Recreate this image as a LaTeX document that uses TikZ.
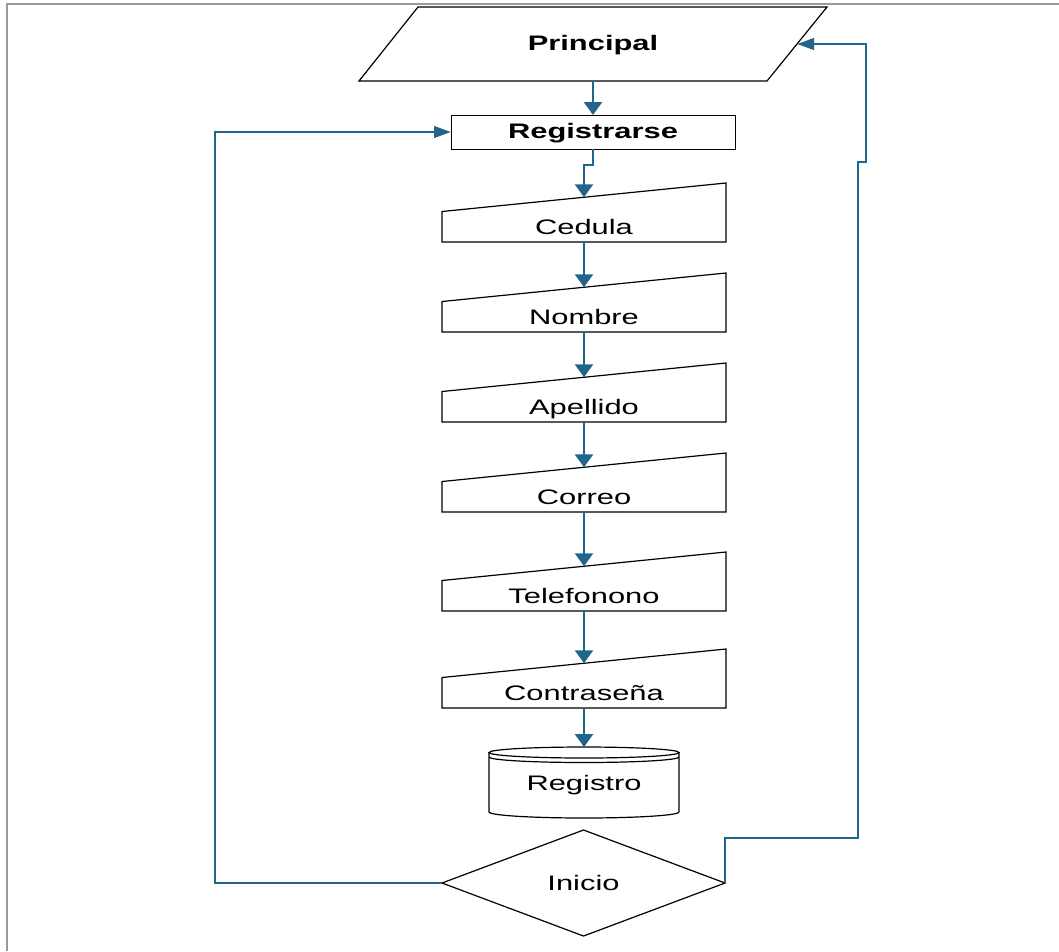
\documentclass[tikz,border=0pt]{standalone}
\usepackage{fontspec}
\setmainfont{Liberation Sans}[FakeStretch=1.47]
\usetikzlibrary{arrows.meta,calc,shapes.geometric}
\definecolor{flowblue}{RGB}{33,101,140}
\definecolor{framegray}{RGB}{154,154,154}
% text box of zero height, lowered by #1
\newcommand\lowtext[2]{\raisebox{#1}[0pt][0pt]{#2}}
% manual-input outline (sloped top) around a node, plus the entry point on its top edge
\newcommand\inputshape[1]{%
  \draw[outline] (#1.north east) -- (#1.south east) -- (#1.south west)
    -- ([shift={(0,28.5)}]#1.north west) -- cycle;
  \coordinate (#1-in) at ([shift={(0,14.25)}]#1.north);}
\begin{document}
\begin{tikzpicture}[x=1pt,y=-1pt,
  every node/.style={font=\fontsize{21}{25}\selectfont, inner sep=0pt, outer sep=0pt},
  boldtext/.style={font=\fontsize{21}{25}\selectfont\bfseries},
  outline/.style={draw=black, line width=1.2pt, line join=miter},
  flow/.style={draw=flowblue, line width=2.6pt},
  down/.style={-{Triangle[width=18pt,length=13pt]}},
  side/.style={-{Triangle[width=11.5pt,length=17pt]}},
  inbox/.style={rectangle, minimum width=284pt, minimum height=59pt},
]
\useasboundingbox (0,0) rectangle (1059,951);

% frame
\draw[framegray, line width=2pt] (7,951) -- (7,4) -- (1059,4);

% Principal (parallelogram)
\node[rectangle, minimum width=468pt, minimum height=74pt, boldtext] (prin) at (593,44)
  {\lowtext{-6.5pt}{Principal}};
\draw[outline] ([shift={(59,0)}]prin.north west) -- (prin.north east)
  -- ([shift={(-60,0)}]prin.south east) -- (prin.south west) -- cycle;
\coordinate (prinR) at ($(prin.north east)!.5!([shift={(-60,0)}]prin.south east)$);

% Registrarse (process)
\node[rectangle, draw=black, line width=1pt, minimum width=284pt, minimum height=34pt, boldtext] (regis) at (593,132)
  {\lowtext{-6.5pt}{Registrarse}};

% input fields
\node[inbox] (ced) at (584,212.5) {\lowtext{-21.5pt}{Cedula}};
\node[inbox] (nom) at (584,302.5) {\lowtext{-21.5pt}{Nombre}};
\node[inbox] (ape) at (584,392.5) {\lowtext{-21.5pt}{Apellido}};
\node[inbox] (cor) at (584,482.5) {\lowtext{-21.5pt}{Correo}};
\node[inbox] (tel) at (584,581.5) {\lowtext{-21.5pt}{Telefonono}};
\node[inbox] (con) at (584,678.5) {\lowtext{-21.5pt}{Contraseña}};
\inputshape{ced}
\inputshape{nom}
\inputshape{ape}
\inputshape{cor}
\inputshape{tel}
\inputshape{con}

% Registro (stored data)
\node[rectangle, minimum width=190pt, minimum height=71pt] (reg) at (584,782.5)
  {\lowtext{-7.8pt}{Registro}};
\draw[outline] ([shift={(-95,-30)}]reg.center) -- ([shift={(-95,29.5)}]reg.center)
  arc[start angle=180, end angle=0, x radius=95, y radius=6]
  -- ([shift={(95,-30)}]reg.center);
\draw[outline] ([shift={(0,-30)}]reg.center) ellipse[x radius=95, y radius=5.5];
\draw[outline] ([shift={(-95,-25.5)}]reg.center)
  arc[start angle=180, end angle=0, x radius=95, y radius=5.5];

% Inicio (decision)
\node[diamond, outline, minimum width=283pt, minimum height=106pt] (ini) at (583.5,883) {Inicio};

% return paths
\coordinate (lft) at (215,883);
\coordinate (r1) at (858,838);
\coordinate (r2) at (858,162);
\coordinate (r3) at (866,162);

% connectors
\draw[flow, down] (prin.south) -- (regis.north);
\draw[flow, down] (regis.south) -- ++(0,16) -| (ced-in);
\draw[flow, down] (ced.south) -- (nom-in);
\draw[flow, down] (nom.south) -- (ape-in);
\draw[flow, down] (ape.south) -- (cor-in);
\draw[flow, down] (cor.south) -- (tel-in);
\draw[flow, down] (tel.south) -- (con-in);
\draw[flow, down] (con.south) -- (reg.north);
\draw[flow, side] (ini.west) -- (lft) |- (regis.west);
\draw[flow, side] (ini.east) |- (r1) -- (r2) -- (r3) |- (prinR);
\end{tikzpicture}
\end{document}
